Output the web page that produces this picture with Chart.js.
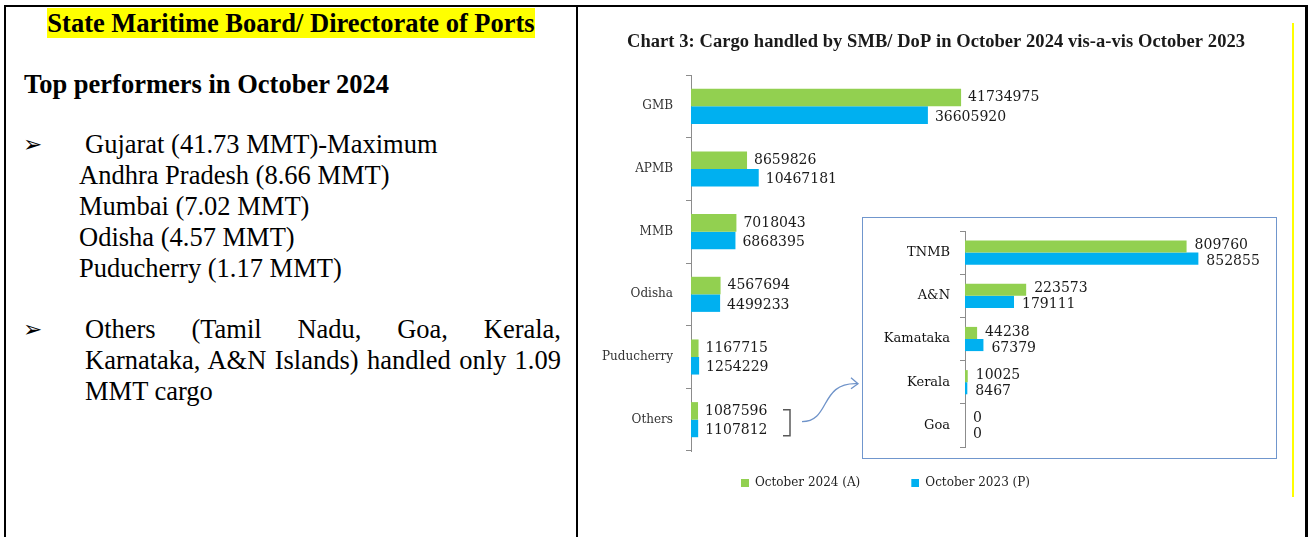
<!DOCTYPE html>
<html><head><meta charset="utf-8">
<script src="https://cdn.jsdelivr.net/npm/chart.js@4.4.1/dist/chart.umd.min.js"></script>
<style>
html,body{margin:0;padding:0;background:#fff;}
body{width:1311px;height:537px;overflow:hidden;position:relative;font-family:"Liberation Serif","Times New Roman",serif;color:#000;}
.ln{position:absolute;background:#000;}
.t{position:absolute;white-space:nowrap;font-size:26.5px;line-height:31px;}
.b{font-weight:bold;}
.arrow{position:absolute;font-family:"DejaVu Sans",sans-serif;font-size:23px;line-height:31px;}
.j{position:absolute;left:85px;width:476px;font-size:26.5px;line-height:31px;text-align:justify;text-align-last:justify;white-space:normal;}
#main{position:absolute;left:580px;top:0;}
#insetBox{position:absolute;left:862px;top:217px;width:415px;height:242px;box-sizing:border-box;border:1px solid #7096cd;background:#fff;}
#inset{position:absolute;left:0;top:0;}
</style>
</head><body>
<div class="ln" style="left:4px;top:5px;width:1304px;height:2px;"></div>
<div class="ln" style="left:4px;top:5px;width:2px;height:532px;"></div>
<div class="ln" style="left:576px;top:5px;width:2px;height:532px;"></div>
<div class="ln" style="left:1305px;top:5px;width:3px;height:532px;"></div>
<div style="position:absolute;left:1292px;top:23px;width:2px;height:474px;background:#ffff00;"></div>

<div class="t b" style="left:6px;width:570px;top:8px;text-align:center;"><span style="background:#ffff00;">State Maritime Board/ Directorate of Ports</span></div>
<div class="t b" style="left:24px;top:69px;">Top performers in October 2024</div>

<div class="arrow" style="left:23px;top:129px;">➢</div>
<div class="t" style="left:85px;top:129px;">Gujarat (41.73 MMT)-Maximum</div>
<div class="t" style="left:79px;top:160px;">Andhra Pradesh (8.66 MMT)</div>
<div class="t" style="left:79px;top:191px;">Mumbai (7.02 MMT)</div>
<div class="t" style="left:79px;top:222px;">Odisha (4.57 MMT)</div>
<div class="t" style="left:79px;top:253px;">Puducherry (1.17 MMT)</div>

<div class="arrow" style="left:23px;top:314px;">➢</div>
<div class="j" style="top:314px;">Others (Tamil Nadu, Goa, Kerala,</div>
<div class="j" style="top:345px;">Karnataka, A&amp;N Islands) handled only 1.09</div>
<div class="t" style="left:85px;top:376px;">MMT cargo</div>

<canvas id="main" width="720" height="537" style="width:720px;height:537px;"></canvas>
<div id="insetBox"><canvas id="inset" width="413" height="240" style="width:413px;height:240px;"></canvas></div>

<script>
// ---- data ----
const categories = ['GMB', 'APMB', 'MMB', 'Odisha', 'Puducherry', 'Others'];
const oct2024 = [41734975, 8659826, 7018043, 4567694, 1167715, 1087596];
const oct2023 = [36605920, 10467181, 6868395, 4499233, 1254229, 1107812];
const insetCategories = ['TNMB', 'A&N', 'Kamataka', 'Kerala', 'Goa'];
const insetOct2024 = [809760, 223573, 44238, 10025, 0];
const insetOct2023 = [852855, 179111, 67379, 8467, 0];
const seriesLabels = ['October 2024 (A)', 'October 2023 (P)'];
const chartTitle = 'Chart 3: Cargo handled by SMB/ DoP in October 2024 vis-a-vis October 2023';

// ---- styles ----
const GREEN = '#92D050', BLUE = '#00B0F0';
const AXIS = '#8c8c8c';

// title drawn spread over a target width (the reference title is widely spaced)
const titleText = {
  id: 'titleText',
  afterDraw(chart, args, o) {
    const ctx = chart.ctx;
    ctx.save();
    ctx.font = o.font;
    ctx.fillStyle = o.color;
    ctx.textAlign = 'left';
    ctx.textBaseline = 'middle';
    const text = o.text;
    const natural = ctx.measureText(text).width;
    const gap = (o.width - natural) / (text.length - 1);
    for (let i = 0; i < text.length; i++) {
      const pre = ctx.measureText(text.slice(0, i)).width;
      ctx.fillText(text[i], o.x + pre + gap * i, o.y);
    }
    ctx.restore();
  }
};

const valueLabels = {
  id: 'valueLabels',
  afterDatasetsDraw(chart, args, opts) {
    const ctx = chart.ctx;
    ctx.save();
    ctx.font = opts.font;
    ctx.fillStyle = opts.color;
    ctx.textBaseline = 'middle';
    ctx.textAlign = 'left';
    chart.data.datasets.forEach((ds, i) => {
      const meta = chart.getDatasetMeta(i);
      meta.data.forEach((bar, j) => {
        ctx.fillText(String(ds.data[j]), bar.x + opts.dx, bar.y + opts.dy[i]);
      });
    });
    ctx.restore();
  }
};

const othersConnector = {
  id: 'othersConnector',
  afterDraw(chart) {
    const ctx = chart.ctx;
    const y = chart.scales.y.getPixelForValue(categories.length - 1);
    const x0 = chart.chartArea.left;
    ctx.save();
    ctx.strokeStyle = '#595959';
    ctx.lineWidth = 1.5;
    ctx.beginPath();
    ctx.moveTo(x0 + 92, y - 10);
    ctx.lineTo(x0 + 99, y - 10);
    ctx.lineTo(x0 + 99, y + 16);
    ctx.lineTo(x0 + 92, y + 16);
    ctx.stroke();
    ctx.strokeStyle = '#6f93c9';
    ctx.lineWidth = 1.3;
    ctx.beginPath();
    ctx.moveTo(x0 + 111, y + 2);
    ctx.bezierCurveTo(x0 + 140, y + 2, x0 + 128, y - 38, x0 + 167, y - 36);
    ctx.stroke();
    ctx.beginPath();
    ctx.moveTo(x0 + 160, y - 42);
    ctx.lineTo(x0 + 167, y - 36);
    ctx.lineTo(x0 + 160, y - 31);
    ctx.stroke();
    ctx.restore();
  }
};

function swatch(color) {
  const c = document.createElement('canvas');
  c.width = 33; c.height = 8;
  const x = c.getContext('2d');
  x.fillStyle = color;
  x.fillRect(25, 0, 8, 8);
  return c;
}
const swatches = [swatch(GREEN), swatch(BLUE)];

new Chart(document.getElementById('main'), {
  type: 'bar',
  data: {
    labels: categories,
    datasets: [
      { label: seriesLabels[0], data: oct2024, backgroundColor: GREEN },
      { label: seriesLabels[1], data: oct2023, backgroundColor: BLUE }
    ]
  },
  options: {
    indexAxis: 'y',
    responsive: false,
    animation: false,
    devicePixelRatio: 1,
    layout: { padding: { left: 0, right: 134, top: 75, bottom: 38 } },
    datasets: { bar: { categoryPercentage: 0.56, barPercentage: 1, borderWidth: 0 } },
    scales: {
      x: { display: false, min: 0, max: 73400000 },
      y: {
        offset: true,
        grid: { offset: true, drawOnChartArea: false, drawTicks: true, tickLength: 5, color: AXIS },
        border: { display: true, color: AXIS, width: 1 },
        ticks: { padding: 13, color: '#333', font: { family: 'DejaVu Serif', size: 12 } },
        afterFit(s) { s.width = 111; s.paddingTop = 0; s.paddingBottom = 0; }
      }
    },
    plugins: {
      title: { display: false },
      titleText: { text: chartTitle, font: 'bold 18.5px "Liberation Serif"', width: 618, color: '#1a1a1a', x: 47, y: 42 },
      legend: {
        position: 'bottom',
        labels: {
          usePointStyle: true, pointStyleWidth: 33, boxHeight: 8, padding: 26,
          color: '#222', font: { family: 'DejaVu Serif', size: 12 },
          generateLabels(chart) {
            const items = Chart.defaults.plugins.legend.labels.generateLabels(chart);
            items.forEach((it, i) => { it.pointStyle = swatches[i]; });
            return items;
          }
        }
      },
      tooltip: { enabled: false },
      valueLabels: { font: '14px "DejaVu Serif"', color: '#1a1a1a', dx: 7, dy: [0, 2] }
    }
  },
  plugins: [valueLabels, othersConnector, titleText]
});

new Chart(document.getElementById('inset'), {
  type: 'bar',
  data: {
    labels: insetCategories,
    datasets: [
      { label: seriesLabels[0], data: insetOct2024, backgroundColor: GREEN },
      { label: seriesLabels[1], data: insetOct2023, backgroundColor: BLUE }
    ]
  },
  options: {
    indexAxis: 'y',
    responsive: false,
    animation: false,
    devicePixelRatio: 1,
    layout: { padding: { left: 0, right: 10, top: 13, bottom: 11 } },
    datasets: { bar: { categoryPercentage: 0.56, barPercentage: 1, borderWidth: 0 } },
    scales: {
      x: { display: false, min: 0, max: 1100000 },
      y: {
        offset: true,
        grid: { offset: true, drawOnChartArea: false, drawTicks: true, tickLength: 5, color: AXIS },
        border: { display: true, color: AXIS, width: 1 },
        ticks: { padding: 10, color: '#111', font: { family: 'DejaVu Serif', size: 13 } },
        afterFit(s) { s.width = 102; s.paddingTop = 0; s.paddingBottom = 0; }
      }
    },
    plugins: {
      legend: { display: false },
      title: { display: false },
      tooltip: { enabled: false },
      valueLabels: { font: '14px "DejaVu Serif"', color: '#1a1a1a', dx: 8, dy: [-1, 3] }
    }
  },
  plugins: [valueLabels]
});
</script>
</body></html>
